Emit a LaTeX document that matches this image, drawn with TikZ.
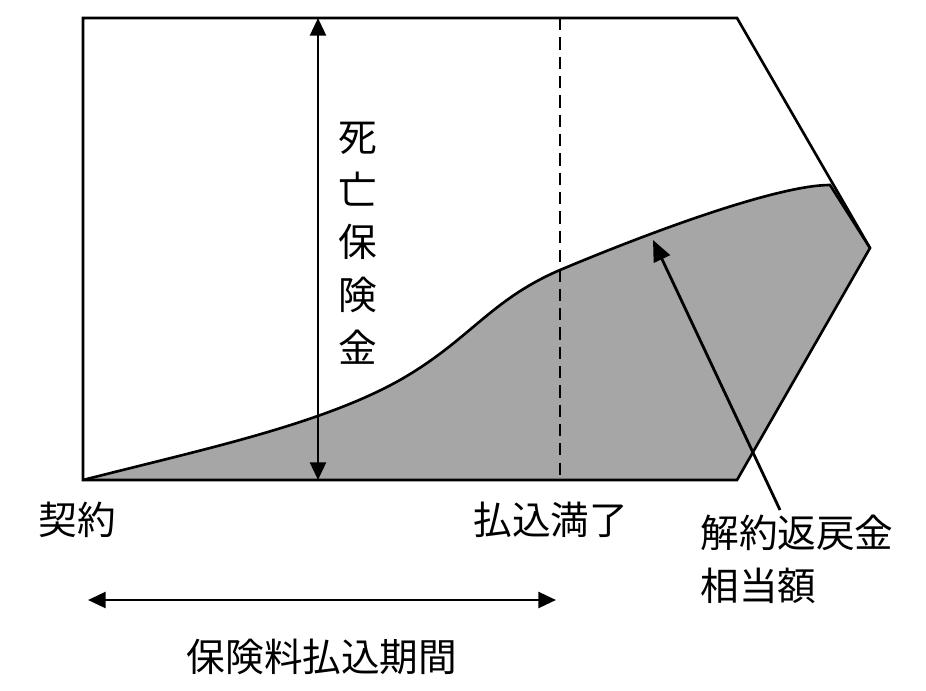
\documentclass[tikz,border=0pt]{standalone}
\usepackage{fontspec}
\newfontfamily\jp{Noto Sans CJK JP}
\usetikzlibrary{arrows.meta}
\begin{document}
\begin{tikzpicture}[x=0.02cm,y=-0.02cm,
  lbl/.style={font=\jp\fontsize{22}{30}\selectfont,inner sep=0pt},
  dbl/.style={line width=1.6pt,{Triangle[length=10pt,width=9pt]}-{Triangle[length=10pt,width=9pt]}},
  edge/.style={line width=1.5pt}]
\useasboundingbox (0,0) rectangle (926,690);
\coordinate (tl) at (83,18); \coordinate (tr) at (737,18);
\coordinate (rp) at (870,248); \coordinate (br) at (737,480);
\coordinate (bl) at (83,480);
\def\crv{(bl) .. controls (200,450) and (320,425) .. (400,380)
  .. controls (470,340) and (490,300) .. (560,270)
  .. controls (660,228) and (780,185) .. (830,185)}
\fill[fill={rgb,255:red,166;green,166;blue,166}] \crv -- (rp) -- (br) -- cycle;
\draw[edge] \crv -- (rp);
\draw[edge] (tl) -- (tr) -- (rp) -- (br) -- (bl) -- cycle;
\coordinate (dt) at (560,18); \coordinate (db) at (560,480);
\draw[line width=1.5pt,dash pattern=on 7pt off 4pt] (dt) -- (db);
\coordinate (at) at (318,18); \coordinate (ab) at (318,480);
\draw[dbl] (at) -- (ab);
\node[lbl,align=center] (d) at (358,243) {死\\亡\\保\\険\\金};
\node[lbl,anchor=west] (k) at (38,520) {契約};
\node[lbl,anchor=west] (h) at (473,520) {払込満了};
\node[lbl,anchor=north west,align=left] (c) at (700,515) {解約返戻金\\相当額};
\coordinate (ps) at (780,510); \coordinate (pe) at (653,240);
\draw[line width=1.6pt,-{Triangle[length=12pt,width=10pt]}] (ps) -- (pe);
\coordinate (hl) at (88,600); \coordinate (hr) at (556,600);
\draw[dbl] (hl) -- (hr);
\node[lbl] (p) at (322,657) {保険料払込期間};
\end{tikzpicture}
\end{document}
